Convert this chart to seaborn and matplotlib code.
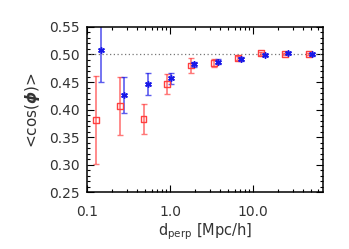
import numpy as np
import pandas as pd
import matplotlib
matplotlib.use("Agg")
import matplotlib.pyplot as plt
import matplotlib.ticker as mticker
import seaborn as sns

# red squares
red_x = [0.13, 0.25, 0.48, 0.92, 1.81, 3.37, 6.55, 12.5, 24.3, 46.7]
red_y = [0.381, 0.407, 0.383, 0.447, 0.480, 0.485, 0.494, 0.502, 0.5005, 0.5005]
red_err = [0.080, 0.053, 0.027, 0.018, 0.013, 0.007, 0.004, 0.003, 0.002, 0.002]

# blue asterisks
blue_x = [0.146, 0.28, 0.54, 1.04, 1.94, 3.77, 7.19, 14.0, 26.6, 51.0]
blue_y = [0.509, 0.427, 0.447, 0.457, 0.482, 0.487, 0.492, 0.4995, 0.502, 0.500]
blue_err = [0.058, 0.033, 0.020, 0.010, 0.005, 0.004, 0.003, 0.002, 0.002, 0.002]

x_ticks = [0.1, 1.0, 10.0]
x_tick_labels = ["0.1", "1.0", "10.0"]
y_ticks = [0.25, 0.30, 0.35, 0.40, 0.45, 0.50, 0.55]

red = "#ff4040"
blue = "#1818e8"

sns.set_style("ticks")
plt.rcParams["font.family"] = ["DejaVu Sans"]

fig = plt.figure(figsize=(3.49, 2.49), dpi=100)
ax = fig.add_axes([0.249, 0.227, 0.676, 0.665])

ax.axhline(0.5, color="#777777", ls=(0, (1, 2)), lw=0.9, zorder=1)

ax.errorbar(red_x, red_y, yerr=red_err, fmt="none", ecolor=red, alpha=0.7,
            elinewidth=1.2, capsize=2, capthick=1.0, zorder=2)
ax.errorbar(blue_x, blue_y, yerr=blue_err, fmt="none", ecolor=blue, alpha=0.7,
            elinewidth=1.2, capsize=2, capthick=1.0, zorder=2)

df_red = pd.DataFrame({"x": red_x, "y": red_y})
df_blue = pd.DataFrame({"x": blue_x, "y": blue_y})
sns.scatterplot(data=df_red, x="x", y="y", ax=ax, marker="s", s=18,
                facecolor="none", edgecolor=red, linewidth=1.0, zorder=3)
sns.scatterplot(data=df_blue, x="x", y="y", ax=ax, marker=(6, 2, 0), s=16,
                color=blue, edgecolor=blue, linewidth=1.1, zorder=4)

ax.set_xscale("log")
ax.set_xlim(0.1, 69)
ax.set_ylim(0.25, 0.55)
ax.set_xticks(x_ticks)
ax.set_xticklabels(x_tick_labels)
ax.set_yticks(y_ticks)
ax.yaxis.set_major_formatter(mticker.FormatStrFormatter("%.2f"))
ax.yaxis.set_minor_locator(mticker.MultipleLocator(0.01))
ax.xaxis.set_minor_locator(mticker.LogLocator(base=10, subs=np.arange(2, 10)))
ax.xaxis.set_minor_formatter(mticker.NullFormatter())

ax.tick_params(which="both", direction="in", top=True, right=True,
               colors="black", labelcolor="#333333", labelsize=10, width=0.8)
ax.tick_params(which="major", length=5)
ax.tick_params(which="minor", length=2.5)
ax.tick_params(axis="x", pad=9)
ax.tick_params(axis="y", pad=5)
for s in ax.spines.values():
    s.set_linewidth(1.1)
    s.set_color("black")

ax.set_xlabel(r"d$_{\mathrm{perp}}$ [Mpc/h]", fontsize=10.5, color="#333333", labelpad=2)
ax.set_ylabel(r"<cos($\boldsymbol{\phi}$)>", fontsize=11, color="#333333", labelpad=5)

fig.savefig("out.png", dpi=100)
